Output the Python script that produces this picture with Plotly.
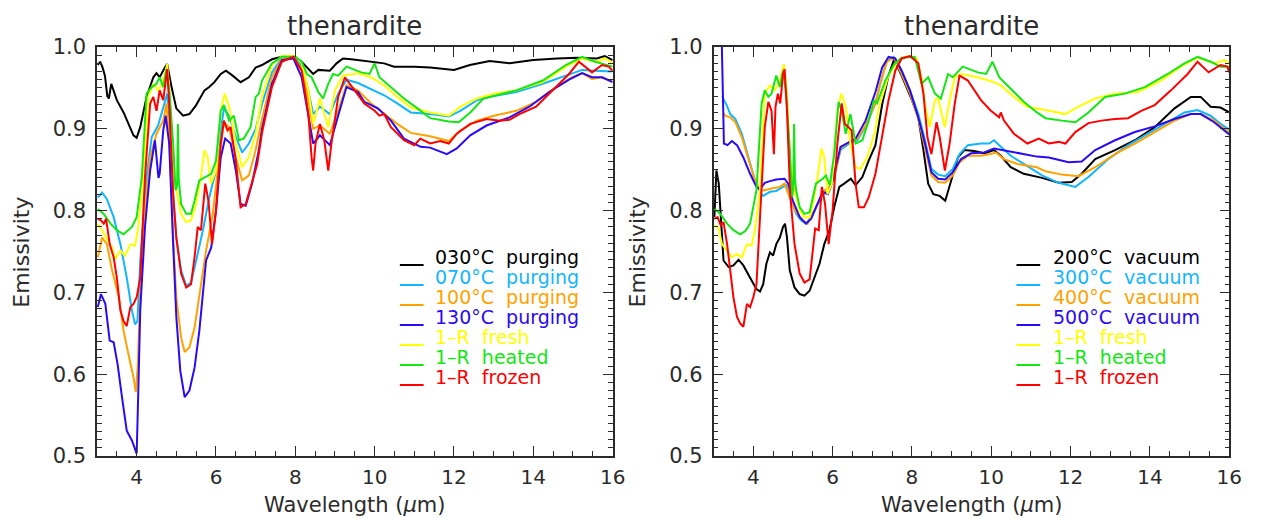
import plotly.graph_objects as go

# ---------------- data (wavelength um, emissivity) ----------------
L_030_purging = [(3.02,0.978),(3.08,0.982),(3.14,0.975),(3.2,0.965),(3.26,0.94),(3.3,0.937),(3.36,0.955),(3.5,0.935),(3.67,0.92),(3.8,0.906),(3.92,0.892),(4.0,0.889),(4.09,0.902),(4.25,0.939),(4.42,0.963),(4.5,0.968),(4.58,0.963),(4.71,0.975),(4.77,0.979),(4.88,0.951),(5.0,0.925),(5.17,0.916),(5.33,0.918),(5.5,0.929),(5.71,0.947),(5.83,0.951),(5.96,0.957),(6.12,0.967),(6.25,0.971),(6.42,0.965),(6.62,0.957),(6.83,0.963),(7.0,0.975),(7.16,0.978),(7.41,0.985),(7.66,0.988),(7.91,0.987),(8.16,0.982),(8.33,0.973),(8.45,0.967),(8.58,0.972),(8.87,0.971),(9.04,0.98),(9.2,0.986),(9.41,0.985),(9.83,0.982),(10.24,0.98),(10.49,0.976),(11.0,0.976),(11.4,0.975),(12.0,0.972),(12.4,0.978),(12.9,0.983),(13.4,0.98),(14.0,0.984),(14.6,0.986),(15.1,0.987),(15.6,0.986),(15.8,0.989),(16.0,0.984)]
L_070_purging = [(3.02,0.816),(3.13,0.822),(3.25,0.814),(3.42,0.792),(3.59,0.759),(3.75,0.718),(3.88,0.678),(3.96,0.661),(4.02,0.665),(4.09,0.739),(4.25,0.841),(4.38,0.89),(4.54,0.904),(4.71,0.931),(4.77,0.943),(4.83,0.91),(4.92,0.82),(5.0,0.767),(5.12,0.727),(5.25,0.708),(5.37,0.712),(5.5,0.739),(5.67,0.776),(5.83,0.816),(6.0,0.849),(6.12,0.898),(6.2,0.925),(6.33,0.916),(6.5,0.89),(6.66,0.871),(6.83,0.882),(7.0,0.9),(7.16,0.93),(7.41,0.969),(7.66,0.987),(7.91,0.988),(8.12,0.98),(8.29,0.955),(8.45,0.918),(8.62,0.927),(8.87,0.918),(9.08,0.943),(9.29,0.96),(9.58,0.956),(9.91,0.949),(10.24,0.941),(10.57,0.931),(10.91,0.92),(11.4,0.918),(11.87,0.915),(12.16,0.922),(12.58,0.935),(13.0,0.94),(13.57,0.945),(14.24,0.955),(14.82,0.965),(15.23,0.972),(15.56,0.971),(16.0,0.97)]
L_100_purging = [(3.02,0.743),(3.13,0.767),(3.25,0.759),(3.38,0.727),(3.55,0.694),(3.67,0.653),(3.79,0.625),(3.92,0.596),(3.98,0.578),(4.03,0.612),(4.09,0.698),(4.21,0.8),(4.34,0.865),(4.5,0.894),(4.67,0.91),(4.75,0.931),(4.83,0.882),(4.92,0.767),(5.0,0.694),(5.12,0.645),(5.21,0.627),(5.33,0.633),(5.46,0.657),(5.58,0.694),(5.75,0.751),(5.92,0.796),(6.08,0.865),(6.2,0.908),(6.33,0.902),(6.5,0.865),(6.66,0.837),(6.83,0.843),(7.0,0.874),(7.16,0.912),(7.41,0.963),(7.66,0.986),(7.95,0.987),(8.16,0.973),(8.33,0.935),(8.45,0.9),(8.62,0.904),(8.87,0.894),(9.08,0.922),(9.29,0.953),(9.58,0.947),(9.91,0.931),(10.24,0.918),(10.57,0.906),(10.91,0.895),(11.4,0.891),(11.87,0.885),(12.16,0.898),(12.58,0.91),(13.0,0.916),(13.57,0.922),(14.07,0.933),(14.57,0.951),(14.98,0.963),(15.23,0.968),(15.48,0.961),(15.73,0.963),(16.0,0.958)]
L_130_purging = [(3.02,0.682),(3.1,0.698),(3.21,0.686),(3.32,0.641),(3.42,0.639),(3.52,0.612),(3.63,0.572),(3.75,0.531),(3.88,0.519),(3.98,0.505),(4.0,0.503),(4.04,0.576),(4.09,0.678),(4.21,0.78),(4.34,0.849),(4.46,0.886),(4.52,0.86),(4.55,0.84),(4.58,0.845),(4.67,0.898),(4.73,0.916),(4.82,0.882),(4.92,0.759),(5.0,0.67),(5.1,0.604),(5.21,0.572),(5.33,0.58),(5.46,0.608),(5.58,0.653),(5.75,0.739),(5.88,0.755),(6.0,0.8),(6.12,0.865),(6.23,0.888),(6.37,0.882),(6.5,0.849),(6.62,0.808),(6.75,0.806),(6.91,0.833),(7.08,0.874),(7.16,0.9),(7.41,0.955),(7.66,0.984),(7.95,0.986),(8.16,0.963),(8.33,0.918),(8.45,0.882),(8.62,0.892),(8.87,0.88),(9.08,0.916),(9.29,0.951),(9.58,0.945),(9.74,0.933),(10.08,0.925),(10.41,0.91),(10.74,0.888),(11.16,0.878),(11.4,0.877),(11.82,0.869),(12.07,0.876),(12.41,0.892),(12.82,0.904),(13.4,0.914),(13.9,0.927),(14.4,0.945),(14.9,0.96),(15.23,0.968),(15.48,0.963),(15.73,0.963),(16.0,0.957)]
L_fresh = [(3.02,0.784),(3.13,0.776),(3.25,0.765),(3.38,0.755),(3.46,0.741),(3.59,0.751),(3.71,0.745),(3.84,0.759),(3.96,0.757),(4.04,0.78),(4.17,0.841),(4.29,0.939),(4.42,0.955),(4.54,0.947),(4.67,0.959),(4.77,0.979),(4.83,0.943),(4.92,0.861),(5.0,0.825),(5.12,0.796),(5.25,0.786),(5.37,0.788),(5.5,0.808),(5.62,0.841),(5.71,0.874),(5.79,0.865),(5.87,0.833),(6.0,0.849),(6.12,0.922),(6.22,0.943),(6.33,0.927),(6.5,0.882),(6.66,0.853),(6.83,0.865),(7.0,0.894),(7.16,0.94),(7.41,0.978),(7.66,0.989),(8.0,0.989),(8.16,0.98),(8.33,0.947),(8.45,0.906),(8.62,0.937),(8.83,0.902),(9.0,0.947),(9.2,0.965),(9.58,0.968),(9.91,0.963),(10.24,0.953),(10.57,0.939),(10.91,0.926),(11.4,0.92),(11.87,0.916),(12.16,0.927),(12.58,0.937),(13.0,0.943),(13.57,0.947),(14.24,0.957),(14.82,0.976),(15.23,0.986),(15.56,0.982),(15.82,0.986),(16.0,0.98)]
L_heated = [(3.02,0.802),(3.17,0.796),(3.34,0.784),(3.5,0.776),(3.67,0.771),(3.8,0.776),(3.88,0.78),(4.0,0.792),(4.13,0.841),(4.25,0.943),(4.38,0.951),(4.5,0.955),(4.58,0.963),(4.67,0.951),(4.75,0.973),(4.83,0.943),(4.92,0.882),(4.98,0.825),(5.02,0.83),(5.04,0.906),(5.06,0.84),(5.12,0.808),(5.25,0.796),(5.37,0.796),(5.46,0.812),(5.58,0.837),(5.75,0.841),(5.88,0.845),(6.0,0.861),(6.12,0.922),(6.2,0.929),(6.33,0.91),(6.45,0.916),(6.58,0.886),(6.7,0.888),(6.87,0.902),(7.0,0.939),(7.08,0.943),(7.16,0.959),(7.41,0.98),(7.66,0.988),(8.0,0.988),(8.16,0.982),(8.29,0.967),(8.41,0.963),(8.58,0.945),(8.7,0.937),(8.83,0.955),(8.95,0.967),(9.08,0.965),(9.29,0.976),(9.66,0.969),(9.87,0.967),(10.0,0.98),(10.12,0.963),(10.41,0.951),(10.74,0.937),(11.08,0.925),(11.4,0.913),(11.87,0.909),(12.12,0.908),(12.41,0.92),(12.74,0.937),(13.07,0.941),(13.57,0.947),(14.24,0.959),(14.82,0.978),(15.23,0.988),(15.56,0.982),(16.0,0.976)]
L_frozen = [(3.02,0.79),(3.1,0.788),(3.17,0.784),(3.23,0.79),(3.32,0.759),(3.42,0.743),(3.5,0.718),(3.59,0.678),(3.67,0.665),(3.75,0.659),(3.84,0.682),(3.92,0.686),(4.0,0.694),(4.09,0.718),(4.21,0.841),(4.34,0.931),(4.42,0.939),(4.5,0.922),(4.58,0.947),(4.67,0.935),(4.77,0.973),(4.83,0.922),(4.92,0.82),(5.0,0.767),(5.12,0.723),(5.25,0.706),(5.37,0.71),(5.46,0.743),(5.54,0.78),(5.62,0.776),(5.73,0.833),(5.81,0.812),(5.9,0.759),(6.0,0.8),(6.12,0.882),(6.2,0.91),(6.29,0.898),(6.37,0.902),(6.5,0.861),(6.62,0.804),(6.75,0.808),(6.87,0.829),(7.04,0.857),(7.16,0.895),(7.41,0.951),(7.66,0.982),(7.95,0.988),(8.16,0.971),(8.33,0.918),(8.41,0.865),(8.45,0.849),(8.51,0.882),(8.62,0.906),(8.73,0.886),(8.83,0.849),(8.91,0.882),(9.08,0.939),(9.25,0.963),(9.5,0.947),(9.74,0.931),(10.0,0.922),(10.12,0.916),(10.24,0.918),(10.41,0.902),(10.74,0.886),(11.0,0.88),(11.15,0.888),(11.4,0.882),(11.65,0.885),(11.87,0.882),(12.07,0.894),(12.41,0.906),(12.82,0.912),(13.15,0.91),(13.4,0.911),(13.65,0.918),(14.07,0.927),(14.49,0.947),(14.9,0.967),(15.15,0.982),(15.48,0.969),(15.73,0.978),(15.9,0.976),(16.0,0.971)]

R_200_vacuum = [(3.02,0.792),(3.07,0.849),(3.13,0.833),(3.18,0.792),(3.25,0.739),(3.38,0.731),(3.5,0.733),(3.63,0.74),(3.75,0.733),(3.92,0.718),(4.08,0.704),(4.17,0.701),(4.25,0.71),(4.33,0.735),(4.42,0.749),(4.5,0.745),(4.58,0.759),(4.67,0.767),(4.75,0.78),(4.8,0.784),(4.85,0.767),(4.92,0.727),(5.04,0.706),(5.17,0.698),(5.29,0.696),(5.42,0.702),(5.54,0.718),(5.67,0.735),(5.79,0.759),(5.92,0.776),(6.04,0.804),(6.17,0.829),(6.29,0.833),(6.46,0.839),(6.58,0.831),(6.75,0.841),(6.91,0.861),(7.08,0.88),(7.25,0.93),(7.41,0.965),(7.55,0.985),(7.74,0.965),(8.0,0.935),(8.16,0.914),(8.29,0.874),(8.41,0.833),(8.54,0.82),(8.7,0.818),(8.84,0.812),(8.99,0.837),(9.16,0.865),(9.32,0.874),(9.57,0.873),(9.82,0.87),(10.07,0.874),(10.24,0.867),(10.49,0.853),(10.82,0.845),(11.28,0.84),(11.7,0.834),(12.03,0.835),(12.28,0.845),(12.62,0.863),(13.12,0.874),(13.62,0.886),(14.12,0.902),(14.62,0.925),(15.03,0.939),(15.28,0.939),(15.53,0.927),(15.78,0.926),(16.0,0.92)]
R_300_vacuum = [(3.22,0.94),(3.26,0.935),(3.33,0.929),(3.42,0.918),(3.55,0.912),(3.71,0.894),(3.88,0.865),(4.04,0.837),(4.17,0.823),(4.25,0.818),(4.42,0.823),(4.58,0.824),(4.75,0.829),(4.83,0.831),(4.96,0.812),(5.08,0.796),(5.21,0.788),(5.33,0.784),(5.46,0.792),(5.58,0.804),(5.71,0.816),(5.83,0.823),(5.92,0.824),(6.04,0.841),(6.2,0.874),(6.42,0.882),(6.62,0.886),(6.83,0.902),(7.08,0.931),(7.2,0.955),(7.37,0.984),(7.54,0.988),(7.74,0.971),(7.95,0.947),(8.16,0.918),(8.33,0.886),(8.49,0.851),(8.66,0.844),(8.84,0.842),(9.03,0.851),(9.2,0.869),(9.41,0.88),(9.74,0.882),(9.95,0.882),(10.07,0.886),(10.2,0.88),(10.49,0.867),(10.82,0.857),(11.28,0.843),(11.7,0.834),(12.12,0.829),(12.45,0.841),(12.95,0.863),(13.45,0.88),(13.95,0.894),(14.45,0.908),(14.87,0.92),(15.2,0.923),(15.53,0.916),(15.78,0.906),(16.0,0.899)]
R_400_vacuum = [(3.24,0.92),(3.29,0.916),(3.42,0.914),(3.55,0.908),(3.71,0.89),(3.88,0.863),(4.04,0.837),(4.17,0.825),(4.29,0.825),(4.46,0.827),(4.67,0.829),(4.79,0.833),(4.92,0.816),(5.08,0.798),(5.25,0.788),(5.37,0.784),(5.5,0.796),(5.67,0.812),(5.79,0.824),(5.92,0.829),(6.08,0.849),(6.2,0.876),(6.42,0.884),(6.62,0.888),(6.83,0.904),(7.08,0.931),(7.2,0.955),(7.37,0.982),(7.54,0.987),(7.74,0.967),(7.95,0.943),(8.16,0.912),(8.33,0.878),(8.49,0.843),(8.66,0.835),(8.84,0.834),(9.03,0.843),(9.2,0.859),(9.41,0.867),(9.74,0.867),(9.95,0.869),(10.12,0.871),(10.32,0.863),(10.66,0.857),(11.15,0.853),(11.37,0.848),(11.78,0.844),(12.2,0.842),(12.62,0.853),(13.12,0.869),(13.62,0.882),(14.12,0.896),(14.62,0.91),(15.03,0.918),(15.28,0.918),(15.62,0.91),(16.0,0.895)]
R_500_vacuum = [(3.2,1.02),(3.26,0.882),(3.35,0.88),(3.46,0.885),(3.59,0.88),(3.75,0.865),(3.92,0.845),(4.08,0.829),(4.17,0.826),(4.29,0.834),(4.42,0.836),(4.58,0.838),(4.79,0.839),(4.88,0.833),(5.0,0.812),(5.17,0.792),(5.33,0.784),(5.46,0.79),(5.58,0.804),(5.75,0.823),(5.88,0.82),(6.0,0.837),(6.2,0.878),(6.42,0.884),(6.58,0.888),(6.83,0.91),(7.08,0.945),(7.25,0.975),(7.41,0.988),(7.58,0.986),(7.74,0.971),(7.95,0.947),(8.16,0.914),(8.33,0.882),(8.49,0.847),(8.66,0.839),(8.84,0.838),(9.03,0.847),(9.24,0.863),(9.49,0.87),(9.82,0.871),(10.07,0.876),(10.41,0.873),(10.82,0.869),(11.15,0.866),(11.45,0.865),(11.95,0.859),(12.28,0.86),(12.62,0.874),(13.12,0.886),(13.62,0.896),(14.12,0.903),(14.62,0.912),(15.03,0.918),(15.28,0.918),(15.62,0.908),(16.0,0.893)]
R_fresh = [(3.02,0.782),(3.13,0.778),(3.21,0.759),(3.34,0.751),(3.46,0.743),(3.59,0.747),(3.71,0.743),(3.84,0.759),(3.96,0.757),(4.04,0.776),(4.17,0.825),(4.29,0.943),(4.42,0.953),(4.54,0.947),(4.67,0.959),(4.77,0.979),(4.85,0.943),(4.93,0.861),(5.04,0.825),(5.17,0.8),(5.29,0.792),(5.42,0.792),(5.52,0.812),(5.62,0.841),(5.72,0.876),(5.79,0.865),(5.87,0.82),(5.98,0.833),(6.12,0.922),(6.22,0.943),(6.33,0.927),(6.45,0.882),(6.58,0.853),(6.7,0.851),(6.87,0.865),(7.08,0.898),(7.16,0.925),(7.41,0.965),(7.66,0.984),(7.91,0.989),(8.12,0.986),(8.24,0.963),(8.34,0.927),(8.45,0.902),(8.58,0.935),(8.66,0.937),(8.83,0.902),(8.95,0.935),(9.08,0.963),(9.24,0.967),(9.66,0.963),(10.07,0.957),(10.24,0.953),(10.57,0.939),(10.91,0.927),(11.37,0.923),(11.87,0.918),(12.2,0.927),(12.62,0.937),(13.12,0.943),(13.7,0.945),(14.28,0.959),(14.78,0.976),(15.2,0.987),(15.62,0.98),(15.87,0.984),(16.0,0.98)]
R_heated = [(3.02,0.802),(3.17,0.796),(3.34,0.784),(3.5,0.776),(3.67,0.771),(3.8,0.775),(3.92,0.784),(4.08,0.825),(4.21,0.931),(4.29,0.947),(4.38,0.939),(4.46,0.943),(4.58,0.965),(4.67,0.951),(4.75,0.971),(4.83,0.943),(4.92,0.874),(4.98,0.816),(5.01,0.83),(5.03,0.906),(5.05,0.84),(5.08,0.825),(5.17,0.804),(5.29,0.796),(5.42,0.798),(5.5,0.816),(5.58,0.833),(5.75,0.839),(5.83,0.843),(5.93,0.831),(6.04,0.869),(6.15,0.933),(6.23,0.922),(6.33,0.894),(6.45,0.918),(6.58,0.882),(6.75,0.886),(6.91,0.91),(7.04,0.935),(7.12,0.931),(7.33,0.959),(7.54,0.978),(7.74,0.987),(8.07,0.988),(8.24,0.955),(8.41,0.963),(8.58,0.943),(8.73,0.937),(8.91,0.967),(9.03,0.963),(9.28,0.976),(9.66,0.969),(9.87,0.967),(10.03,0.982),(10.2,0.963),(10.49,0.949),(10.82,0.933),(11.15,0.92),(11.37,0.913),(11.78,0.91),(12.12,0.908),(12.45,0.92),(12.87,0.939),(13.37,0.943),(13.87,0.951),(14.45,0.967),(14.87,0.98),(15.2,0.988),(15.53,0.982),(15.78,0.976),(16.0,0.976)]
R_frozen = [(3.02,0.79),(3.1,0.792),(3.18,0.782),(3.25,0.786),(3.34,0.759),(3.42,0.727),(3.5,0.694),(3.59,0.67),(3.67,0.662),(3.75,0.658),(3.84,0.686),(3.92,0.682),(4.0,0.694),(4.08,0.71),(4.21,0.82),(4.29,0.902),(4.38,0.933),(4.46,0.922),(4.52,0.869),(4.56,0.927),(4.62,0.943),(4.68,0.931),(4.75,0.967),(4.79,0.973),(4.85,0.922),(4.93,0.82),(5.04,0.759),(5.17,0.723),(5.29,0.712),(5.42,0.716),(5.5,0.751),(5.56,0.778),(5.65,0.776),(5.73,0.829),(5.81,0.808),(5.9,0.759),(6.0,0.8),(6.12,0.882),(6.23,0.931),(6.31,0.906),(6.4,0.902),(6.48,0.898),(6.58,0.833),(6.66,0.804),(6.79,0.804),(6.91,0.816),(7.08,0.845),(7.25,0.89),(7.41,0.935),(7.58,0.971),(7.74,0.986),(7.95,0.989),(8.16,0.98),(8.29,0.943),(8.39,0.89),(8.49,0.869),(8.62,0.908),(8.7,0.89),(8.83,0.849),(8.95,0.882),(9.08,0.931),(9.2,0.965),(9.41,0.959),(9.74,0.935),(9.99,0.922),(10.2,0.914),(10.24,0.92),(10.32,0.91),(10.57,0.894),(10.91,0.882),(11.2,0.888),(11.45,0.882),(11.7,0.884),(11.87,0.882),(12.12,0.896),(12.45,0.907),(12.78,0.91),(13.12,0.912),(13.45,0.913),(13.78,0.922),(14.12,0.929),(14.53,0.947),(14.95,0.967),(15.2,0.982),(15.48,0.969),(15.78,0.978),(15.95,0.976),(16.0,0.969)]

LEFT_LABELS = ["030°C  purging", "070°C  purging", "100°C  purging", "130°C  purging",
               "1–R  fresh", "1–R  heated", "1–R  frozen"]
RIGHT_LABELS = ["200°C  vacuum", "300°C  vacuum", "400°C  vacuum", "500°C  vacuum",
                "1–R  fresh", "1–R  heated", "1–R  frozen"]
COLORS = ["#000000", "#12B5FF", "#FFA200", "#2A0AF5", "#FFFF00", "#14E614", "#FF0000"]

LEFT_SERIES = [L_030_purging, L_070_purging, L_100_purging, L_130_purging, L_fresh, L_heated, L_frozen]
RIGHT_SERIES = [R_200_vacuum, R_300_vacuum, R_400_vacuum, R_500_vacuum, R_fresh, R_heated, R_frozen]

TITLE = "thenardite"
XTITLE = "Wavelength (<i>μ</i>m)"
YTITLE = "Emissivity"

# ---------------- layout geometry (pixels) ----------------
W, H = 1268, 518
TOP, BOT = 47, 456
LX0, LX1 = 98, 619
RX0, RX1 = 721, 1242
FONT = "DejaVu Sans"
AX = "#2b2b2b"


def px(xp):
    return xp / W


def py(yp):
    return (BOT - yp) / (BOT - TOP)


fig = go.Figure()
for series, color in zip(LEFT_SERIES, COLORS):
    fig.add_trace(go.Scatter(x=[p[0] for p in series], y=[p[1] for p in series], mode="lines",
                             line=dict(color=color, width=2), xaxis="x", yaxis="y", showlegend=False))
for series, color in zip(RIGHT_SERIES, COLORS):
    fig.add_trace(go.Scatter(x=[p[0] for p in series], y=[p[1] for p in series], mode="lines",
                             line=dict(color=color, width=2), xaxis="x2", yaxis="y2", showlegend=False))

xcommon = dict(range=[3, 16], tickvals=[4, 6, 8, 10, 12, 14, 16], ticks="inside", ticklen=10, tickwidth=1.2,
               tickcolor=AX, showline=True, linecolor=AX, linewidth=1.5, mirror="allticks", showgrid=False,
               zeroline=False, tickfont=dict(family=FONT, size=20, color=AX), ticklabelstandoff=2,
               minor=dict(tick0=3, dtick=0.5, ticks="inside", ticklen=5, tickcolor=AX, tickwidth=1.1, showgrid=False))
ycommon = dict(range=[0.5, 1.0], tick0=0.5, dtick=0.1, tickformat=".1f", ticks="inside", ticklen=10, tickwidth=1.2,
               tickcolor=AX, showline=True, linecolor=AX, linewidth=1.5, mirror="allticks", showgrid=False,
               zeroline=False, tickfont=dict(family=FONT, size=21, color=AX), ticklabelstandoff=5,
               minor=dict(tick0=0.5, dtick=0.01, ticks="inside", ticklen=5, tickcolor=AX, tickwidth=1.1, showgrid=False))

annotations = []
shapes = []
for cx0, cx1 in [(LX0, LX1), (RX0, RX1)]:
    cx = (cx0 + cx1) / 2
    annotations.append(dict(text=TITLE, x=px(cx), y=py(26), xref="paper", yref="paper", showarrow=False,
                            xanchor="center", yanchor="middle", font=dict(family=FONT, size=26, color=AX)))
    annotations.append(dict(text=XTITLE, x=px(cx), y=py(505), xref="paper", yref="paper", showarrow=False,
                            xanchor="center", yanchor="middle", font=dict(family=FONT, size=21, color=AX)))
    annotations.append(dict(text=YTITLE, x=px(cx0 - 76), y=py(252), xref="paper", yref="paper", showarrow=False,
                            xanchor="center", yanchor="middle", textangle=-90,
                            font=dict(family=FONT, size=22, color=AX)))

for labels, lx, tx in [(LEFT_LABELS, 404, 437), (RIGHT_LABELS, 1027, 1062)]:
    for i, (lab, col) in enumerate(zip(labels, COLORS)):
        yc = 257 + 20 * i
        annotations.append(dict(text=lab, x=px(tx), y=py(yc), xref="paper", yref="paper", showarrow=False,
                                xanchor="left", yanchor="middle", font=dict(family=FONT, size=19, color=col)))
        shapes.append(dict(type="line", xref="paper", yref="paper", x0=px(lx), x1=px(lx + 24),
                           y0=py(yc + 8), y1=py(yc + 8), line=dict(color=col, width=2)))

fig.update_layout(
    width=W, height=H,
    margin=dict(l=0, r=0, t=TOP, b=H - BOT, pad=0),
    paper_bgcolor="white", plot_bgcolor="white",
    xaxis=dict(domain=[px(LX0), px(LX1)], anchor="y", **xcommon),
    yaxis=dict(domain=[0, 1], anchor="x", **ycommon),
    xaxis2=dict(domain=[px(RX0), px(RX1)], anchor="y2", **xcommon),
    yaxis2=dict(domain=[0, 1], anchor="x2", **ycommon),
    annotations=annotations, shapes=shapes,
    showlegend=False,
)

fig.write_html("out.html")
